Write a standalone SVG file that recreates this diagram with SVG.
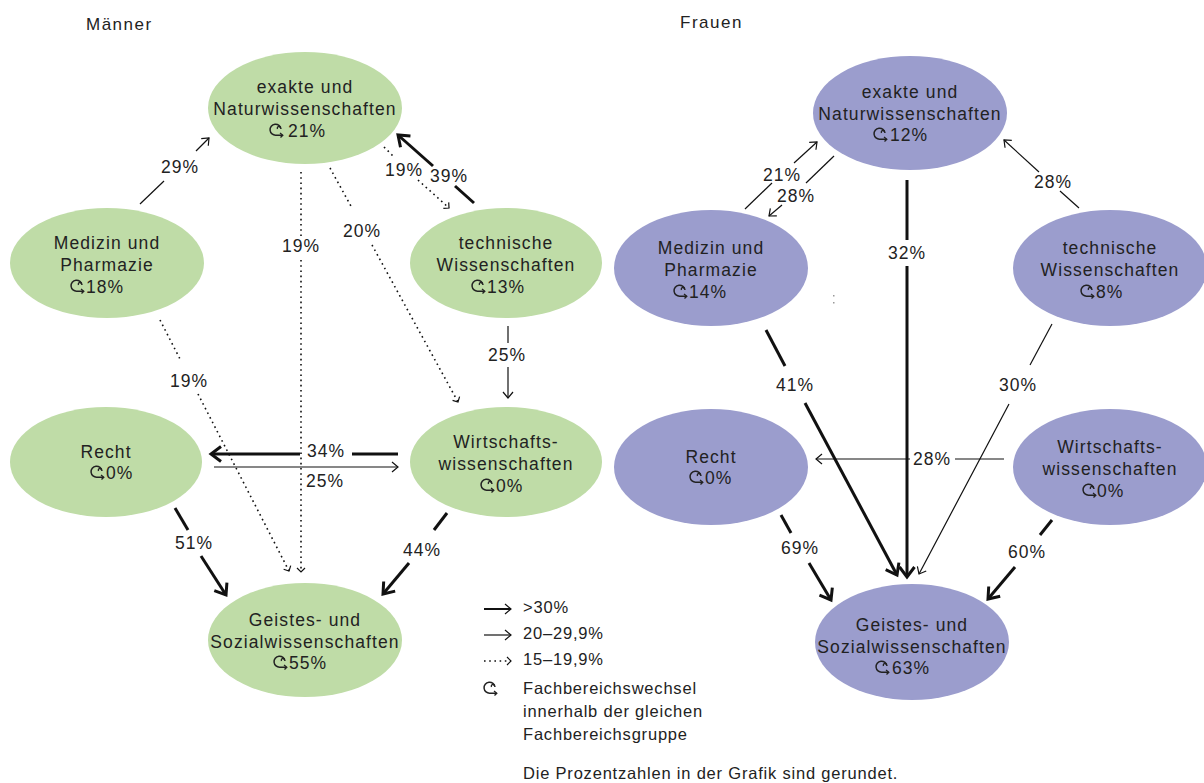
<svg xmlns="http://www.w3.org/2000/svg" xmlns:xlink="http://www.w3.org/1999/xlink" width="1204" height="783" viewBox="0 0 1204 783">
<style>
text{font-family:"Liberation Sans","Open Sans",sans-serif;fill:#222;}
.n{font-size:17.5px;letter-spacing:1.1px;text-anchor:middle;}
.p{font-size:17.5px;letter-spacing:1px;}
.l{font-size:17.5px;letter-spacing:1px;text-anchor:middle;}
.g{font-size:16.5px;letter-spacing:0.8px;}
.t{font-size:17px;letter-spacing:1.5px;}
.men{fill:#bfdca7;}
.wom{fill:#9b9dcd;}
.thick{stroke:#111;stroke-width:3;fill:none;}
.thin{stroke:#111;stroke-width:1.2;fill:none;}
.dot{stroke:#111;stroke-width:1.6;fill:none;stroke-dasharray:1.6 3.6;}
.mk{fill:none;stroke:#111;}
</style>
<defs>
<marker id="aThick" markerUnits="userSpaceOnUse" markerWidth="16" markerHeight="16" refX="13" refY="8" orient="auto" overflow="visible">
<path class="mk" d="M3,0.5 L13,8 L3,15.5" stroke-width="3"/>
</marker>
<marker id="aThin" markerUnits="userSpaceOnUse" markerWidth="12" markerHeight="12" refX="9" refY="6" orient="auto" overflow="visible">
<path class="mk" d="M3,1 L9,6 L3,11" stroke-width="1.2"/>
</marker>
<marker id="aDot" markerUnits="userSpaceOnUse" markerWidth="10" markerHeight="10" refX="6" refY="5" orient="auto" overflow="visible">
<path class="mk" d="M2,1 L6,5 L2,9" stroke-width="1.2"/>
</marker>
<g id="loop">
<path d="M11,6 A5.5,5.5 0 1 0 6,12.2 L12.5,12.2" fill="none" stroke="#222" stroke-width="1.5"/>
<path d="M10.5,4.5 C9.5,2.8 6.5,3.5 7.5,6" fill="none" stroke="#222" stroke-width="1.3"/>
<path d="M10,10 L12.8,12.2 L10.5,14.5" fill="none" stroke="#222" stroke-width="1.3"/>
</g>
</defs>
<rect width="1204" height="783" fill="#fff"/>

<text class="t" x="86" y="30">Männer</text>
<text class="t" x="680" y="28">Frauen</text>

<!-- Men nodes -->
<g id="m-exakte">
<ellipse class="men" cx="305" cy="108" rx="97" ry="56"/>
<text class="n" x="305" y="93">exakte und</text>
<text class="n" x="305" y="115">Naturwissenschaften</text>
<use xlink:href="#loop" x="270" y="123"/>
<text class="p" x="288" y="137">21%</text>
</g>
<g id="m-medizin">
<ellipse class="men" cx="107" cy="263" rx="97" ry="55"/>
<text class="n" x="107" y="249">Medizin und</text>
<text class="n" x="107" y="271">Pharmazie</text>
<use xlink:href="#loop" x="71" y="279"/>
<text class="p" x="86" y="293">18%</text>
</g>
<g id="m-technische">
<ellipse class="men" cx="506" cy="263" rx="96" ry="55"/>
<text class="n" x="506" y="249">technische</text>
<text class="n" x="506" y="271">Wissenschaften</text>
<use xlink:href="#loop" x="472" y="279"/>
<text class="p" x="487" y="293">13%</text>
</g>
<g id="m-recht">
<ellipse class="men" cx="106" cy="462" rx="96" ry="55"/>
<text class="n" x="106" y="458">Recht</text>
<use xlink:href="#loop" x="91" y="465"/>
<text class="p" x="106" y="479">0%</text>
</g>
<g id="m-wirtschaft">
<ellipse class="men" cx="506" cy="462" rx="96" ry="55"/>
<text class="n" x="506" y="448">Wirtschafts-</text>
<text class="n" x="506" y="470">wissenschaften</text>
<use xlink:href="#loop" x="481" y="478"/>
<text class="p" x="496" y="492">0%</text>
</g>
<g id="m-geistes">
<ellipse class="men" cx="305" cy="640" rx="97" ry="57"/>
<text class="n" x="305" y="626">Geistes- und</text>
<text class="n" x="305" y="648">Sozialwissenschaften</text>
<use xlink:href="#loop" x="274" y="655"/>
<text class="p" x="289" y="669">55%</text>
</g>

<!-- Women nodes -->
<g id="w-exakte">
<ellipse class="wom" cx="910" cy="113" rx="97" ry="57"/>
<text class="n" x="910" y="98">exakte und</text>
<text class="n" x="910" y="120">Naturwissenschaften</text>
<use xlink:href="#loop" x="874" y="127"/>
<text class="p" x="890" y="141">12%</text>
</g>
<g id="w-medizin">
<ellipse class="wom" cx="711" cy="268" rx="97" ry="58"/>
<text class="n" x="711" y="254">Medizin und</text>
<text class="n" x="711" y="276">Pharmazie</text>
<use xlink:href="#loop" x="674" y="284"/>
<text class="p" x="689" y="298">14%</text>
</g>
<g id="w-technische">
<ellipse class="wom" cx="1110" cy="268" rx="97" ry="58"/>
<text class="n" x="1110" y="254">technische</text>
<text class="n" x="1110" y="276">Wissenschaften</text>
<use xlink:href="#loop" x="1081" y="284"/>
<text class="p" x="1096" y="298">8%</text>
</g>
<g id="w-recht">
<ellipse class="wom" cx="711" cy="467" rx="97" ry="58"/>
<text class="n" x="711" y="463">Recht</text>
<use xlink:href="#loop" x="690" y="470"/>
<text class="p" x="705" y="484">0%</text>
</g>
<g id="w-wirtschaft">
<ellipse class="wom" cx="1110" cy="467" rx="97" ry="58"/>
<text class="n" x="1110" y="453">Wirtschafts-</text>
<text class="n" x="1110" y="475">wissenschaften</text>
<use xlink:href="#loop" x="1083" y="483"/>
<text class="p" x="1097" y="497">0%</text>
</g>
<g id="w-geistes">
<ellipse class="wom" cx="912" cy="642" rx="97" ry="58"/>
<text class="n" x="912" y="631">Geistes- und</text>
<text class="n" x="912" y="653">Sozialwissenschaften</text>
<use xlink:href="#loop" x="876" y="660"/>
<text class="p" x="892" y="674">63%</text>
</g>

<!-- stray dots -->
<rect x="833" y="295" width="1.5" height="1.5" fill="#999"/>
<rect x="833" y="302" width="1.5" height="1.5" fill="#999"/>

<!-- Connectors -->
<g id="connectors">
<!-- Men -->
<path class="thin" d="M140,204 L164,181"/>
<path class="thin" d="M196,151 L209,138" marker-end="url(#aThin)"/>
<path class="thick" d="M474,203 L455,186"/>
<path class="thick" d="M433,166 L398,135" marker-end="url(#aThick)"/>
<path class="dot" d="M384,147 L395,158"/>
<path class="dot" d="M418,180 L449,208" marker-end="url(#aDot)"/>
<path class="dot" d="M330,168 L352,208"/>
<path class="dot" d="M372,245 L458,402" marker-end="url(#aDot)"/>
<path class="dot" d="M301,172 L301,236"/>
<path class="dot" d="M301,260 L301,572" marker-end="url(#aDot)"/>
<path class="dot" d="M160,320 L180,359"/>
<path class="dot" d="M198,394 L289,571" marker-end="url(#aDot)"/>
<path class="thin" d="M508,326 L508,343"/>
<path class="thin" d="M508,367 L508,398" marker-end="url(#aThin)"/>
<path class="thick" d="M398,454 L352,454"/>
<path class="thick" d="M300,454 L211,454" marker-end="url(#aThick)"/>
<path class="thin" d="M214,467 L398,467" marker-end="url(#aThin)"/>
<path class="thick" d="M175,508 L188,530"/>
<path class="thick" d="M201,556 L226,595" marker-end="url(#aThick)"/>
<path class="thick" d="M447,513 L434,530"/>
<path class="thick" d="M409,563 L383,594" marker-end="url(#aThick)"/>
<!-- Women -->
<path class="thin" d="M745,209 L772,183"/>
<path class="thin" d="M794,163 L817,142" marker-end="url(#aThin)"/>
<path class="thin" d="M834,156 L806,183"/>
<path class="thin" d="M782,205 L769,216" marker-end="url(#aThin)"/>
<path class="thin" d="M1079,208 L1060,191"/>
<path class="thin" d="M1039,172 L1004,140" marker-end="url(#aThin)"/>
<path class="thick" d="M907,180 L907,240"/>
<path class="thick" d="M907,266 L907,577" marker-end="url(#aThick)"/>
<path class="thick" d="M766,330 L785,366"/>
<path class="thick" d="M805,403 L897,575" marker-end="url(#aThick)"/>
<path class="thin" d="M1052,324 L1030,365"/>
<path class="thin" d="M1009,404 L919,574" marker-end="url(#aThin)"/>
<path class="thin" d="M1004,459 L955,459"/>
<path class="thin" d="M910,459 L816,459" marker-end="url(#aThin)"/>
<path class="thick" d="M781,515 L791,533"/>
<path class="thick" d="M809,563 L831,600" marker-end="url(#aThick)"/>
<path class="thick" d="M1052,520 L1040,535"/>
<path class="thick" d="M1015,567 L988,599" marker-end="url(#aThick)"/>
<!-- Legend -->
<path class="thick" style="stroke-width:2" d="M484,609 L511,609" marker-end="url(#aThin)"/>
<path class="thin" d="M484,635 L511,635" marker-end="url(#aThin)"/>
<path class="dot" d="M484,661 L511,661" marker-end="url(#aDot)"/>
</g>

<!-- Connector labels -->
<g id="labels">
<text class="l" x="180" y="173">29%</text>
<text class="l" x="449" y="182">39%</text>
<text class="l" x="404" y="176">19%</text>
<text class="l" x="362" y="237">20%</text>
<text class="l" x="301" y="252">19%</text>
<text class="l" x="189" y="387">19%</text>
<text class="l" x="507" y="361">25%</text>
<text class="l" x="326" y="457">34%</text>
<text class="l" x="325" y="487">25%</text>
<text class="l" x="194" y="549">51%</text>
<text class="l" x="422" y="556">44%</text>
<text class="l" x="782" y="181">21%</text>
<text class="l" x="796" y="202">28%</text>
<text class="l" x="1053" y="188">28%</text>
<text class="l" x="907" y="259">32%</text>
<text class="l" x="795" y="391">41%</text>
<text class="l" x="1018" y="391">30%</text>
<text class="l" x="932" y="465">28%</text>
<text class="l" x="800" y="554">69%</text>
<text class="l" x="1027" y="558">60%</text>
</g>

<!-- Legend -->
<g id="legend">
<text class="g" x="523" y="613">&gt;30%</text>
<text class="g" x="523" y="639">20–29,9%</text>
<text class="g" x="523" y="665">15–19,9%</text>
<use xlink:href="#loop" x="484" y="681"/>
<text class="g" x="523" y="694">Fachbereichswechsel</text>
<text class="g" x="523" y="717">innerhalb der gleichen</text>
<text class="g" x="523" y="740">Fachbereichsgruppe</text>
<text class="g" x="523" y="779">Die Prozentzahlen in der Grafik sind gerundet.</text>
</g>
</svg>
